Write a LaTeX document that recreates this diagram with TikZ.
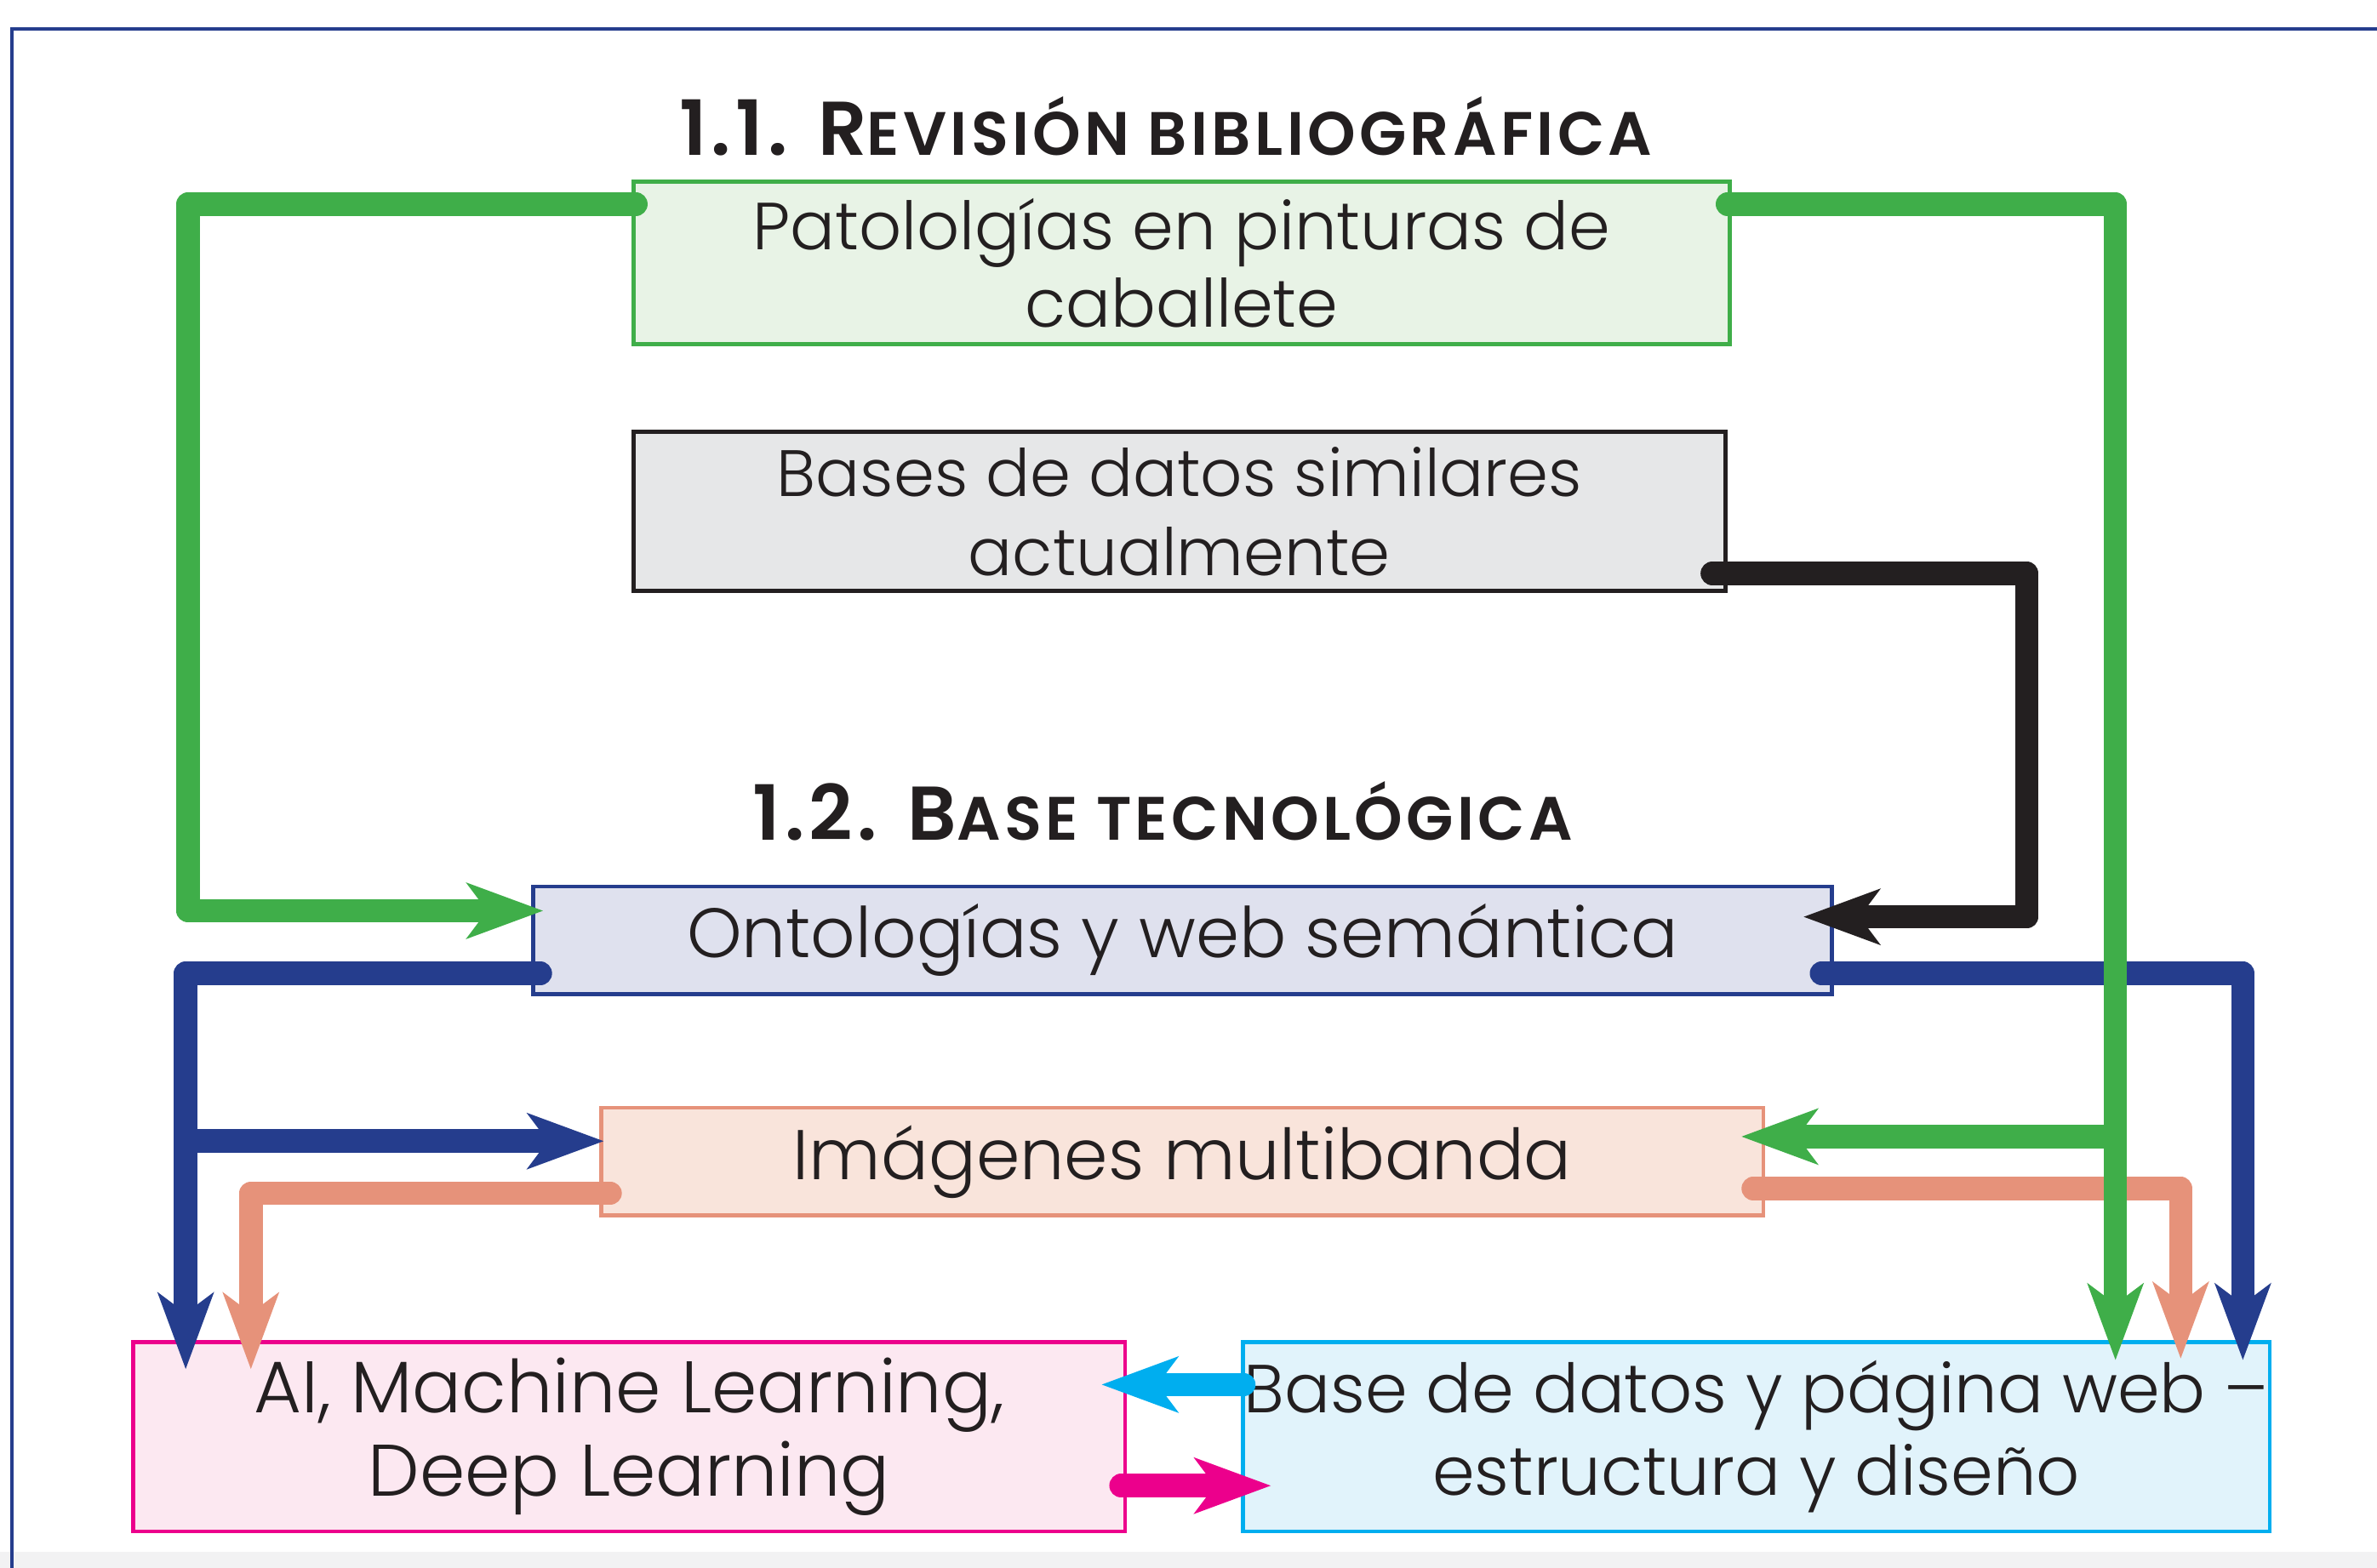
\documentclass[tikz,border=0pt]{standalone}
\usepackage{fontspec}
\IfFontExistsTF{Poppins Light}{%
  \IfFontExistsTF{Poppins SemiBold}%
    {\setmainfont{Poppins Light}[BoldFont={Poppins SemiBold}]}%
    {\setmainfont{Poppins Light}[BoldFont={Poppins}]}%
}{\setmainfont{Poppins}}
\IfFontExistsTF{Poppins SemiBold}%
  {\newfontfamily\ttlfamily{Poppins SemiBold}[LetterSpace=6]}%
  {\newfontfamily\ttlfamily{Poppins}[LetterSpace=6]}
\usetikzlibrary{arrows.meta}
\definecolor{txt}{HTML}{231F20}
\definecolor{navy}{HTML}{253D8D}
\definecolor{grn}{HTML}{3FAE49}
\definecolor{grnfill}{HTML}{E8F3E6}
\definecolor{gryfill}{HTML}{E6E7E8}
\definecolor{ontofill}{HTML}{DFE1EE}
\definecolor{salmon}{HTML}{E6927A}
\definecolor{salfill}{HTML}{F9E4DB}
\definecolor{mag}{HTML}{EC008C}
\definecolor{magfill}{HTML}{FCE8F1}
\definecolor{cyanc}{HTML}{00AEEF}
\definecolor{cyfill}{HTML}{E1F3FB}
\definecolor{band}{HTML}{F2F2F3}
\newcommand{\fsz}[2]{\fontsize{#1pt}{#2pt}\selectfont}
\newcommand{\ttlbig}{\ttlfamily\fontsize{14.3pt}{16pt}\selectfont}
\newcommand{\ttlsmall}{\ttlfamily\fontsize{11.5pt}{16pt}\selectfont}
\tikzset{
  box/.style={draw=#1, line width=0.75pt, inner sep=0pt, align=center, text=txt},
  conn/.style={line width=4.4pt, line cap=round, line join=round,
    -{Stealth[length=5mm,width=3.6mm,inset=1.3mm]}},
  branch/.style={conn, line cap=butt},
  ttl/.style={text=txt, inner sep=0pt, anchor=base}
}
\begin{document}
\begin{tikzpicture}[x=0.01cm,y=-0.01cm]
\useasboundingbox (0,0) rectangle (1568,1034.6);
\fill[band] (0,1024) rectangle (1568,1034.6);
\draw[navy, line width=0.6pt] (8,1034.6) -- (8,19) -- (1568,19);

% titles
\node[ttl] (t1) at (769,102.6) {\ttlbig 1.1. R\ttlsmall EVISIÓN BIBLIOGRÁFICA};
\node[ttl] (t2) at (767,554.4) {\ttlbig 1.2. B\ttlsmall ASE TECNOLÓGICA};

% boxes
\node[box=grn, fill=grnfill, font=\fsz{12.5}{14.5}, minimum width=7.23cm, minimum height=1.07cm] (pat) at (779.5,173.5)
  {Patololgías en pinturas de\\caballete};
\node[box=txt, fill=gryfill, font=\fsz{12.3}{14.8}, minimum width=7.20cm, minimum height=1.05cm] (bases) at (778,337.5)
  {Bases de datos similares\\actualmente};
\node[box=navy, fill=ontofill, font=\fsz{13.1}{15}, minimum width=8.56cm, minimum height=0.71cm] (onto) at (780,620.5)
  {Ontologías y web semántica};
\node[box=salmon, fill=salfill, font=\fsz{13.2}{15}, minimum width=7.66cm, minimum height=0.71cm] (img) at (780,766.5)
  {Imágenes multibanda};
\node[box=mag, fill=magfill, font=\fsz{13.7}{15.6}, minimum width=6.54cm, minimum height=1.25cm] (ai) at (415,948)
  {AI, Machine Learning,\\Deep Learning};
\node[box=cyanc, fill=cyfill, font=\fsz{12.75}{15.6}, minimum width=6.77cm, minimum height=1.25cm] (bd) at (1158.5,948)
  {Base de datos y página web –\\estructura y diseño};

% black
\draw[conn, txt] ([shift={(-10,-13)}]bases.south east) -| (1337,605) -- ([shift={(-20,-15.5)}]onto.east);

% blue
\draw[conn, navy] ([shift={(6,-15)}]onto.south west) -| ([shift={(36,19.5)}]ai.north west);
\coordinate (bsplit) at (124,753);
\draw[branch, navy] (bsplit) -- ([shift={(3,-13.5)}]img.west);
\draw[conn, navy] ([shift={(-8,-15)}]onto.south east) -| ([shift={(-19,13.5)}]bd.north east);

% salmon
\draw[conn, salmon] ([shift={(7,-16)}]img.south west) -| ([shift={(79,19.5)}]ai.north west);
\draw[conn, salmon] ([shift={(-8,-19)}]img.south east) -| ([shift={(-60,12.5)}]bd.north east);

% green
\draw[conn, grn] ([shift={(3,16)}]pat.north west) -| (124,601) -- ([shift={(8,-19.5)}]onto.west);
\draw[conn, grn] ([shift={(-3,16)}]pat.north east) -| ([shift={(577,13.5)}]bd.north west);
\coordinate (gsplit) at (1397,750);
\draw[branch, grn] (gsplit) -- ([shift={(-16,-16.5)}]img.east);

% bottom pair
\draw[conn, cyanc] ([shift={(2,29.5)}]bd.north west) -- ([shift={(-17,29.5)}]ai.north east);
\draw[conn, mag] ([shift={(-4,-31.5)}]ai.south east) -- ([shift={(20,-31.5)}]bd.south west);
\end{tikzpicture}
\end{document}
